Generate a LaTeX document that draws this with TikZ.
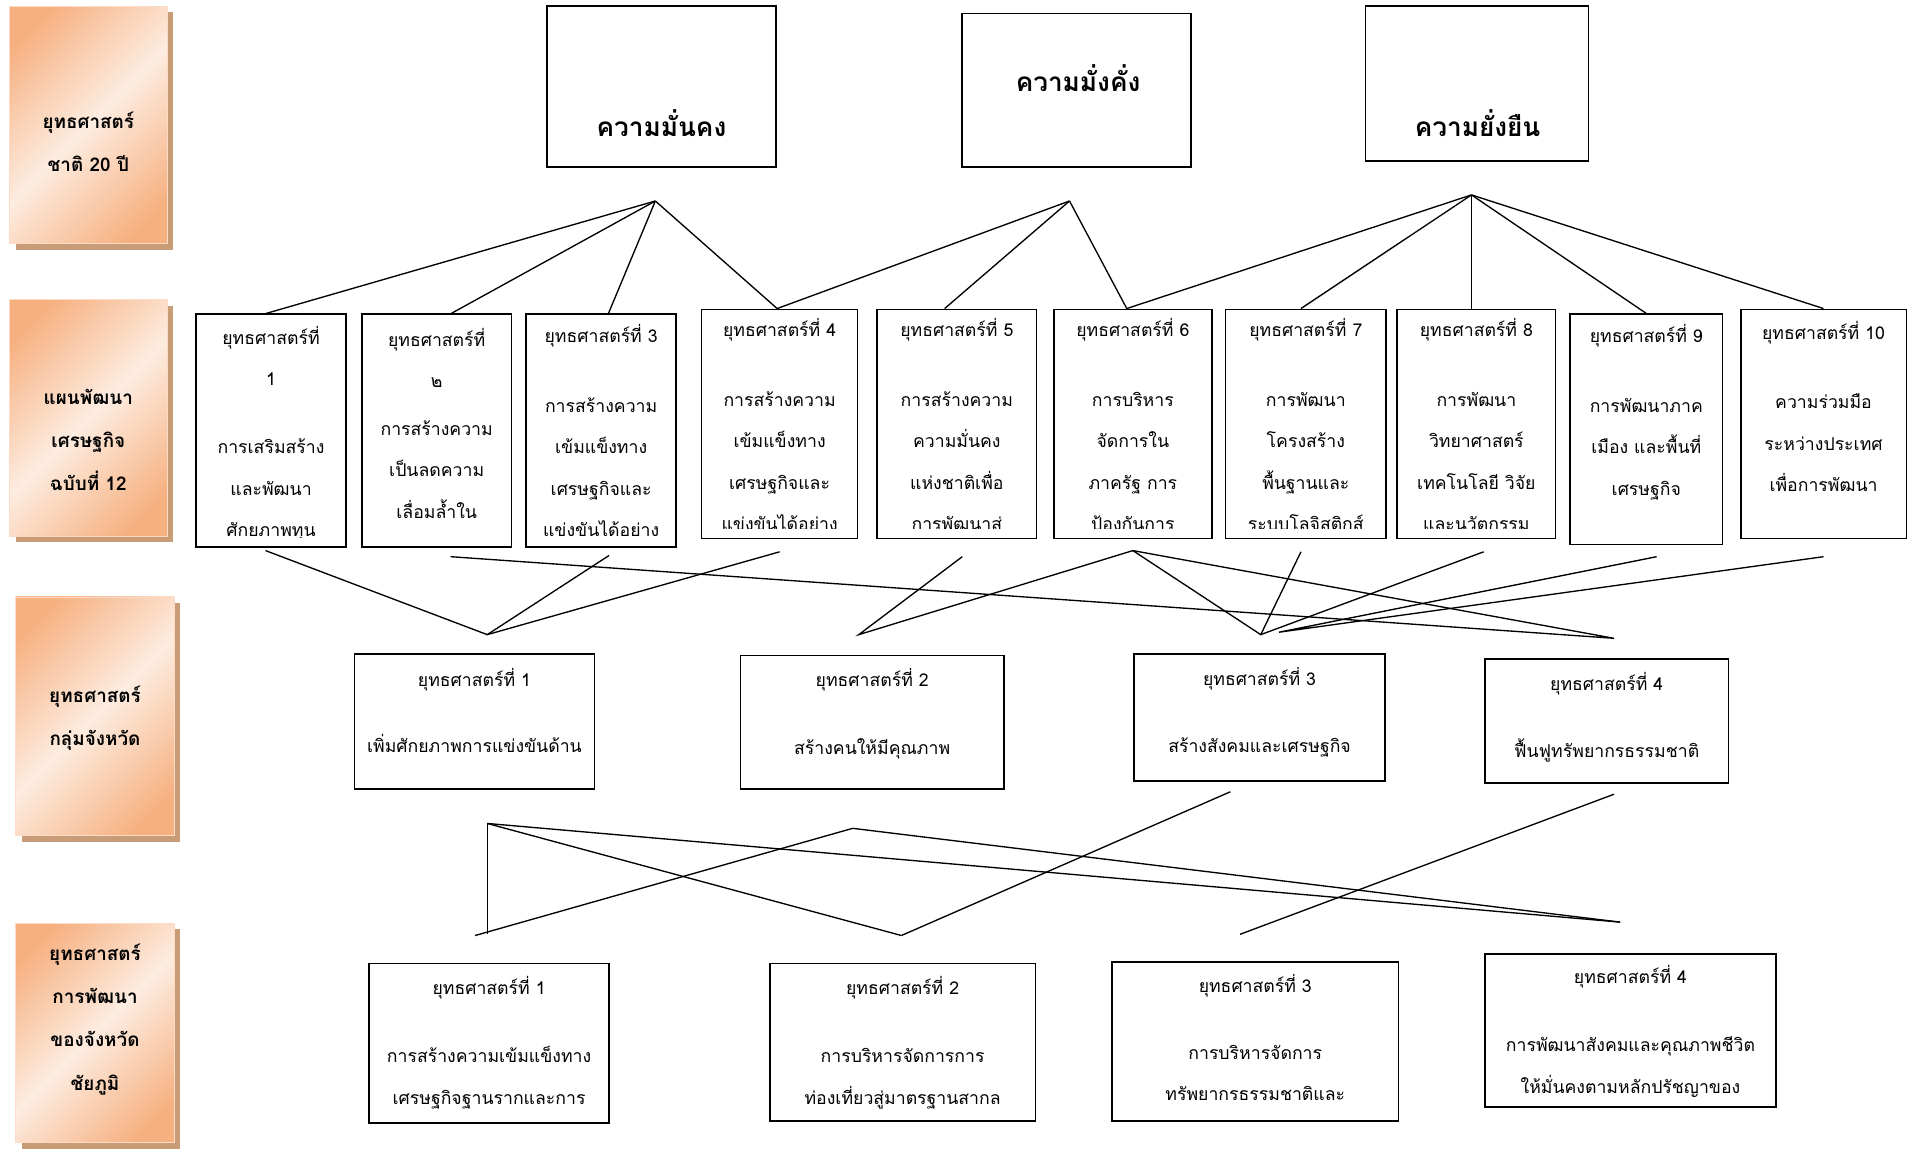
\documentclass[tikz,border=0pt]{standalone}
\usepackage{fontspec}
\setmainfont[Script=Thai]{Loma}
\usetikzlibrary{shadows,calc}

\definecolor{orn}{RGB}{246,176,128}
\definecolor{lite}{RGB}{253,236,224}
\definecolor{shadowc}{RGB}{200,156,118}
\pgfdeclarehorizontalshading{peach}{100bp}{color(0bp)=(orn); color(22bp)=(orn); color(50bp)=(lite); color(78bp)=(orn); color(100bp)=(orn)}

\tikzset{
  sbox/.style={draw=black, line width=1.4pt, rectangle, inner sep=0pt, fill=white},
  txt/.style={align=center, inner sep=0pt, font=\fontsize{14.5}{34}\selectfont},
  lbltxt/.style={align=center, inner sep=0pt, font=\bfseries\fontsize{15.5}{35.5}\selectfont},
  toptxt/.style={inner sep=0pt, font=\bfseries\fontsize{21.5}{24}\selectfont},
  lblbox/.style={rectangle, inner sep=0pt, shading=peach, shading angle=-45, draw=orn!45!white, line width=0.6pt,
    drop shadow={shadow xshift=5pt, shadow yshift=-5pt, fill=shadowc, opacity=1}},
  conn/.style={draw=black, line width=1.1pt},
}

% name, x1, y1, x2, y2, last-line centre y, text
\newcommand\mkbox[7]{%
  \node[sbox, minimum width={#4-#2}, minimum height={#5-#3}] (#1) at ({(#2+#4)/2},{(#3+#5)/2}) {};
  \begin{scope}
    \clip ([shift={(1pt,8.5pt)}]#1.south west) rectangle ([shift={(-1pt,-1pt)}]#1.north east);
    \node[txt, anchor=base] (#1t) at ({(#2+#4)/2},{#6+4.5}) {#7};
  \end{scope}}

\newcommand\mklabel[7]{%
  \node[lblbox, minimum width={#4-#2}, minimum height={#5-#3}] (#1) at ({(#2+#4)/2},{(#3+#5)/2}) {};
  \node[lbltxt, anchor=base] (#1t) at ({(#2+#4)/2},{#6+5}) {#7};}

\begin{document}
\begin{tikzpicture}[x=1pt, y=-1pt]
\fill[white] (0,0) rectangle (1568,943);
\useasboundingbox (0,0) rectangle (1568,943);

% ---- left labels
\mklabel{L1}{8}{5}{137}{200}{136}{ยุทธศาสตร์\\ชาติ 20 ปี}
\mklabel{L2}{8}{246}{137}{440}{398}{แผนพัฒนา\\เศรษฐกิจ\\ฉบับที่ 12}
\mklabel{L3}{13}{490}{143}{686}{607}{ยุทธศาสตร์\\กลุ่มจังหวัด}
\mklabel{L4}{13}{758}{143}{938}{890}{ยุทธศาสตร์\\การพัฒนา\\ของจังหวัด\\ชัยภูมิ}

% ---- top level
\node[sbox, minimum width=188, minimum height=132] (nA) at (543,71) {};
\node[toptxt, anchor=base] (nAt) at (543,112) {ความมั่นคง};
\node[sbox, minimum width=188, minimum height=126] (nB) at (884,74) {};
\node[toptxt, anchor=base] (nBt) at (885,75) {ความมั่งคั่ง};
\node[sbox, minimum width=183, minimum height=127] (nC) at (1212.5,68.5) {};
\node[toptxt, anchor=base] (nCt) at (1213,112) {ความยั่งยืน};

% ---- second level
\mkbox{s1}{161}{258}{284}{449}{436}{ยุทธศาสตร์ที่\\1\\[22pt]การเสริมสร้าง\\และพัฒนา\\ศักยภาพทุน}
\mkbox{s2}{297}{258}{420}{449}{421}{ยุทธศาสตร์ที่\\๒\\[5pt]การสร้างความ\\เป็นลดความ\\เลื่อมล้ำใน}
\mkbox{s3}{432}{258}{555}{449}{436}{ยุทธศาสตร์ที่ 3\\[23pt]การสร้างความ\\เข้มแข็งทาง\\เศรษฐกิจและ\\แข่งขันได้อย่าง}
\mkbox{s4}{576}{254}{704}{442}{431}{ยุทธศาสตร์ที่ 4\\[23pt]การสร้างความ\\เข้มแข็งทาง\\เศรษฐกิจและ\\แข่งขันได้อย่าง}
\mkbox{s5}{720}{254}{851}{442}{431}{ยุทธศาสตร์ที่ 5\\[23pt]การสร้างความ\\ความมั่นคง\\แห่งชาติเพื่อ\\การพัฒนาสู่}
\mkbox{s6}{865}{254}{995}{442}{431}{ยุทธศาสตร์ที่ 6\\[23pt]การบริหาร\\จัดการใน\\ภาครัฐ การ\\ป้องกันการ}
\mkbox{s7}{1006}{254}{1138}{442}{431}{ยุทธศาสตร์ที่ 7\\[23pt]การพัฒนา\\โครงสร้าง\\พื้นฐานและ\\ระบบโลจิสติกส์}
\mkbox{s8}{1147}{254}{1277}{442}{431}{ยุทธศาสตร์ที่ 8\\[23pt]การพัฒนา\\วิทยาศาสตร์\\เทคโนโลยี วิจัย\\และนวัตกรรม}
\mkbox{s9}{1289}{258}{1414}{447}{402}{ยุทธศาสตร์ที่ 9\\[23pt]การพัฒนาภาค\\เมือง และพื้นที่\\เศรษฐกิจ}
\mkbox{s10}{1429}{254}{1565}{442}{399}{ยุทธศาสตร์ที่ 10\\[23pt]ความร่วมมือ\\ระหว่างประเทศ\\เพื่อการพัฒนา}

% ---- third level
\mkbox{g1}{291}{537}{488}{648}{613}{ยุทธศาสตร์ที่ 1\\[20pt]เพิ่มศักยภาพการแข่งขันด้าน}
\mkbox{g2}{608}{538}{824}{648}{615}{ยุทธศาสตร์ที่ 2\\[22pt]สร้างคนให้มีคุณภาพ}
\mkbox{g3}{931}{537}{1137}{641}{613}{ยุทธศาสตร์ที่ 3\\[21pt]สร้างสังคมและเศรษฐกิจ}
\mkbox{g4}{1219}{541}{1419}{643}{617}{ยุทธศาสตร์ที่ 4\\[21pt]ฟื้นฟูทรัพยากรธรรมชาติ}

% ---- fourth level
\mkbox{h1}{303}{791}{500}{922}{902}{ยุทธศาสตร์ที่ 1\\[22pt]การสร้างความเข้มแข็งทาง\\เศรษฐกิจฐานรากและการ}
\mkbox{h2}{632}{791}{850}{920}{902}{ยุทธศาสตร์ที่ 2\\[22pt]การบริหารจัดการการ\\ท่องเที่ยวสู่มาตรฐานสากล}
\mkbox{h3}{913}{790}{1148}{920}{899}{ยุทธศาสตร์ที่ 3\\[21pt]การบริหารจัดการ\\ทรัพยากรธรรมชาติและ}
\mkbox{h4}{1219}{783}{1458}{909}{893}{ยุทธศาสตร์ที่ 4\\[22pt]การพัฒนาสังคมและคุณภาพชีวิต\\ให้มั่นคงตามหลักปรัชญาของ}

% ---- hub coordinates
\coordinate (P1) at (538,165);
\coordinate (P2) at (878,165);
\coordinate (P3) at (1208,160);

\coordinate (b1) at (218,452);
\coordinate (b2) at (370,457);
\coordinate (b3) at (500,456);
\coordinate (b4) at (640,453);
\coordinate (b5) at (790,457);
\coordinate (b6) at (930,452);
\coordinate (b7) at (1068,453);
\coordinate (b8) at (1218,453);
\coordinate (b9) at (1360,457);
\coordinate (b10) at (1497,457);

\coordinate (Q1) at (400,521);
\coordinate (Q2) at (705,521);
\coordinate (Q3) at (1035,521);
\coordinate (Q3b) at (1050,519);
\coordinate (R4) at (1325,524);

\coordinate (c1) at (400,676);
\coordinate (c2) at (700,680);
\coordinate (c3) at (1010,650);
\coordinate (c4) at (1325,652);
\coordinate (d1) at (400,767);
\coordinate (d1b) at (390,768);
\coordinate (d2) at (740,768);
\coordinate (d3) at (1018,767);
\coordinate (e4) at (1330,757);

% ---- level 1 -> level 2
\draw[conn] (P1) -- ([xshift=-4pt]s1.north);
\draw[conn] (P1) -- ([xshift=12pt]s2.north);
\draw[conn] (P1) -- ([xshift=6pt]s3.north);
\draw[conn] (P1) -- ([xshift=-2pt]s4.north);
\draw[conn] (P2) -- ([xshift=-2pt]s4.north);
\draw[conn] (P2) -- ([xshift=-10pt]s5.north);
\draw[conn] (P2) -- ([xshift=-5pt]s6.north);
\draw[conn] (P3) -- ([xshift=-5pt]s6.north);
\draw[conn] (P3) -- ([xshift=-4pt]s7.north);
\draw[conn] (P3) -- ([xshift=-4pt]s8.north);
\draw[conn] (P3) -- (s9.north);
\draw[conn] (P3) -- (s10.north);

% ---- level 2 -> level 3
\draw[conn] (b1) -- (Q1) -- (b3);
\draw[conn] (Q1) -- (b4);
\draw[conn] (b5) -- (Q2) -- (b6);
\draw[conn] (b6) -- (Q3) -- (b7);
\draw[conn] (Q3) -- (b8);
\draw[conn] (b9) -- (Q3b) -- (b10);
\draw[conn] (b2) -- (R4) -- (b6);

% ---- level 3 -> level 4
\draw[conn] (c1) -- (d1);
\draw[conn] (c1) -- (d2);
\draw[conn] (c1) -- (e4);
\draw[conn] (c2) -- (d1b);
\draw[conn] (c2) -- (e4);
\draw[conn] (c3) -- (d2);
\draw[conn] (c4) -- (d3);
\end{tikzpicture}
\end{document}
